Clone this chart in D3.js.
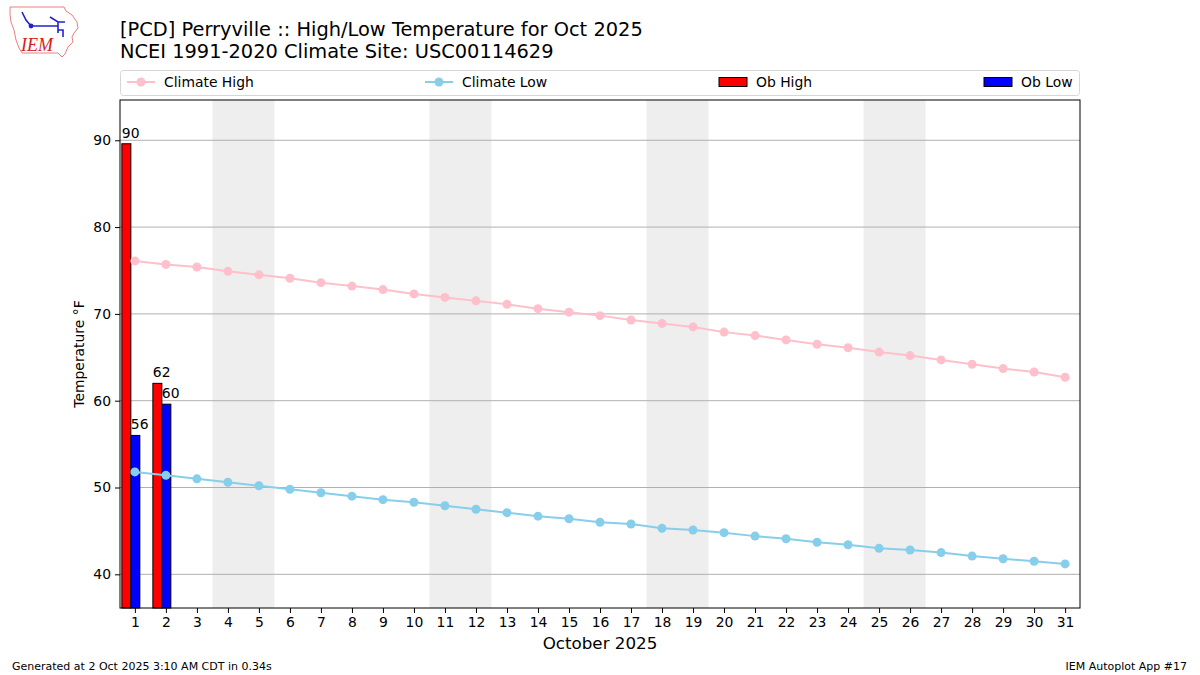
<!DOCTYPE html>
<html>
<head>
<meta charset="utf-8">
<script src="https://cdn.jsdelivr.net/npm/d3@7"></script>
<style>
  body { margin: 0; background: #fff; }
  svg { font-family: "DejaVu Sans", sans-serif; }
</style>
</head>
<body>
<div id="chart"></div>
<script>
// data
var days = [1, 2, 3, 4, 5, 6, 7, 8, 9, 10, 11, 12, 13, 14, 15, 16,
  17, 18, 19, 20, 21, 22, 23, 24, 25, 26, 27, 28, 29, 30, 31];
var climateHigh = [76.1, 75.7, 75.4, 74.9, 74.5, 74.1, 73.6, 73.2, 72.8, 72.3,
  71.9, 71.5, 71.1, 70.6, 70.2, 69.8, 69.3, 68.9, 68.5, 67.9, 67.5, 67.0, 66.5,
  66.1, 65.6, 65.2, 64.7, 64.2, 63.7, 63.3, 62.7];
var climateLow = [51.8, 51.4, 51.0, 50.6, 50.2, 49.8, 49.4, 49.0, 48.6, 48.3,
  47.9, 47.5, 47.1, 46.7, 46.4, 46.0, 45.8, 45.3, 45.1, 44.8, 44.4, 44.1, 43.7,
  43.4, 43.0, 42.8, 42.5, 42.1, 41.8, 41.5, 41.2];
var obDays = [1, 2];
var obHigh = [89.6, 62];
var obLow = [56, 59.6];
var yTicks = [40, 50, 60, 70, 80, 90];
var legendLabels = ["Climate High", "Climate Low", "Ob High", "Ob Low"];

(function () {
  var W = 1200, H = 675;
  var pL = 120, pR = 1080, pT = 100, pB = 608;

  var svg = d3.select('#chart').append('svg')
    .attr('width', W)
    .attr('height', H);

  var x = d3.scaleLinear().domain([0.52, 31.48]).range([pL, pR]);
  var y = d3.scaleLinear().domain([36.12, 94.64]).range([pB, pT]);

  // weekends (Saturday starts a two day band)
  var weekend = days.filter(function (d) {
    return new Date(2025, 9, d).getDay() === 6;
  });
  svg.selectAll('rect.wknd').data(weekend)
    .enter().append('rect')
    .attr('class', 'wknd')
    .attr('x', function (d) { return x(d - 0.5); })
    .attr('y', pT)
    .attr('width', function (d) { return x(d + 1.5) - x(d - 0.5); })
    .attr('height', pB - pT)
    .attr('fill', '#eeeeee');

  // horizontal grid
  svg.selectAll('line.grid').data(yTicks)
    .enter().append('line')
    .attr('class', 'grid')
    .attr('x1', pL).attr('x2', pR)
    .attr('y1', function (d) { return y(d); })
    .attr('y2', function (d) { return y(d); })
    .attr('stroke', '#b0b0b0')
    .attr('stroke-width', 1);

  // observed bars
  var bars = obDays.map(function (d, i) { return { day: d, hi: obHigh[i], lo: obLow[i] }; });
  svg.selectAll('rect.hi').data(bars)
    .enter().append('rect')
    .attr('class', 'hi')
    .attr('x', function (d) { return x(d.day - 0.42); })
    .attr('y', function (d) { return y(d.hi); })
    .attr('width', function (d) { return x(d.day - 0.13) - x(d.day - 0.42); })
    .attr('height', function (d) { return pB - y(d.hi); })
    .attr('fill', 'red')
    .attr('stroke', 'black')
    .attr('stroke-width', 1);
  svg.selectAll('rect.lo').data(bars)
    .enter().append('rect')
    .attr('class', 'lo')
    .attr('x', function (d) { return x(d.day - 0.13); })
    .attr('y', function (d) { return y(d.lo); })
    .attr('width', function (d) { return x(d.day + 0.16) - x(d.day - 0.13); })
    .attr('height', function (d) { return pB - y(d.lo); })
    .attr('fill', 'blue')
    .attr('stroke', 'black')
    .attr('stroke-width', 1);

  var fmt = d3.format('.0f');
  svg.selectAll('text.hilab').data(bars)
    .enter().append('text')
    .attr('x', function (d) { return x(d.day - 0.42); })
    .attr('y', function (d) { return y(d.hi) - 6; })
    .attr('font-size', 13.9)
    .text(function (d) { return fmt(d.hi); });
  svg.selectAll('text.lolab').data(bars)
    .enter().append('text')
    .attr('x', function (d) { return x(d.day - 0.13); })
    .attr('y', function (d) { return y(d.lo) - 6; })
    .attr('font-size', 13.9)
    .text(function (d) { return fmt(d.lo); });

  // climate lines
  function drawClimate(vals, color) {
    var pts = days.map(function (d, i) { return [d, vals[i]]; });
    svg.append('path')
      .datum(pts)
      .attr('fill', 'none')
      .attr('stroke', color)
      .attr('stroke-width', 2)
      .attr('d', d3.line().x(function (d) { return x(d[0]); }).y(function (d) { return y(d[1]); }));
    svg.append('g').selectAll('circle').data(pts)
      .enter().append('circle')
      .attr('cx', function (d) { return x(d[0]); })
      .attr('cy', function (d) { return y(d[1]); })
      .attr('r', 4.5)
      .attr('fill', color);
  }
  drawClimate(climateHigh, 'pink');
  drawClimate(climateLow, 'skyblue');

  // frame + axes
  svg.append('rect')
    .attr('x', pL).attr('y', pT)
    .attr('width', pR - pL).attr('height', pB - pT)
    .attr('fill', 'none').attr('stroke', 'black').attr('stroke-width', 1);

  var xAxis = svg.append('g')
    .attr('transform', 'translate(0,' + pB + ')')
    .call(d3.axisBottom(x).tickValues(days).tickSize(5).tickPadding(4).tickFormat(d3.format('d')));
  var yAxis = svg.append('g')
    .attr('transform', 'translate(' + pL + ',0)')
    .call(d3.axisLeft(y).tickValues(yTicks).tickSize(5).tickPadding(4));
  [xAxis, yAxis].forEach(function (g) {
    g.select('.domain').remove();
    g.attr('font-family', null).attr('font-size', null);
    g.selectAll('text').attr('font-size', 13.9).attr('fill', 'black');
    g.selectAll('line').attr('stroke', 'black');
  });

  svg.append('text')
    .attr('x', (pL + pR) / 2).attr('y', 649)
    .attr('text-anchor', 'middle')
    .attr('font-size', 16.7)
    .text('October 2025');
  svg.append('text')
    .attr('transform', 'translate(84,' + ((pT + pB) / 2) + ') rotate(-90)')
    .attr('text-anchor', 'middle')
    .attr('font-size', 13.9)
    .text('Temperature °F');

  // titles
  svg.append('text').attr('x', 120).attr('y', 36).attr('font-size', 19.4)
    .text('[PCD] Perryville :: High/Low Temperature for Oct 2025');
  svg.append('text').attr('x', 120).attr('y', 58).attr('font-size', 19.4)
    .text('NCEI 1991-2020 Climate Site: USC00114629');

  // legend
  svg.append('rect')
    .attr('x', 120.5).attr('y', 70.5).attr('width', 959).attr('height', 25)
    .attr('rx', 3).attr('fill', 'white').attr('stroke', '#d6d6d6');
  var legX = [127, 425, 719, 984];
  var leg = svg.selectAll('g.leg').data(legendLabels)
    .enter().append('g')
    .attr('class', 'leg')
    .attr('transform', function (d, i) { return 'translate(' + legX[i] + ',82)'; });
  leg.each(function (d, i) {
    var g = d3.select(this);
    if (i < 2) {
      var c = i === 0 ? 'pink' : 'skyblue';
      g.append('line').attr('x1', 0).attr('x2', 28).attr('stroke', c).attr('stroke-width', 2);
      g.append('circle').attr('cx', 14).attr('r', 4.5).attr('fill', c);
    } else {
      g.append('rect').attr('x', 0).attr('y', -4.5).attr('width', 28).attr('height', 9)
        .attr('fill', i === 2 ? 'red' : 'blue').attr('stroke', 'black').attr('stroke-width', 1);
    }
    g.append('text').attr('x', 37).attr('y', 5).attr('font-size', 13.9).text(d);
  });

  // footer
  svg.append('text').attr('x', 12).attr('y', 670).attr('font-size', 11)
    .text('Generated at 2 Oct 2025 3:10 AM CDT in 0.34s');
  svg.append('text').attr('x', 1187).attr('y', 670).attr('font-size', 11)
    .attr('text-anchor', 'end')
    .text('IEM Autoplot App #17');

  // IEM logo (rough sketch)
  var logo = svg.append('g');
  logo.append('path')
    .attr('d', 'M10,7 L64,7 L66,11 L72,15 L77,22 L78,28 L74,33 L72,37 L73,42 L68,47 L65,54 L62,57 L58,53 L22,53 L19,48 L16,40 L14,30 L11,22 L10,14 Z')
    .attr('fill', 'none').attr('stroke', '#e88080').attr('stroke-width', 1);
  logo.append('path')
    .attr('d', 'M31,26 L58,26 M50,17 L58,22 L65,22 M58,22 L58,33 M58,30 L63,30 L63,37 M22,12 L26,20 L31,26')
    .attr('fill', 'none').attr('stroke', '#2222cc').attr('stroke-width', 1.6);
  logo.append('circle').attr('cx', 31).attr('cy', 26).attr('r', 2.4).attr('fill', '#2222cc');
  logo.append('text').attr('x', 21).attr('y', 51)
    .style('font-family', '"Liberation Serif", serif').style('font-style', 'italic')
    .attr('font-size', 18).attr('fill', '#d42020').text('IEM');
})();
</script>
</body>
</html>
